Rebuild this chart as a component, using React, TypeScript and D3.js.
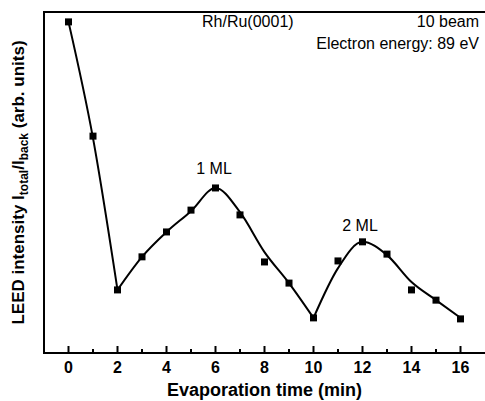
import React from 'react';
import * as d3 from 'd3';

// measured points (min, arb. units)
const times = [0, 1, 2, 3, 4, 5, 6, 7, 8, 9, 10, 11, 12, 13, 14, 15, 16];
const intensity = [0.971, 0.636, 0.185, 0.282, 0.355, 0.419, 0.484, 0.405, 0.267, 0.205, 0.103, 0.27, 0.326, 0.29, 0.185, 0.155, 0.1];

// guide-to-the-eye curve, drawn in three pieces (kinks at 2 and 10 min)
const fitTimes = [[0, 1, 2], [2, 3, 4, 5, 6, 7, 8, 9, 10], [10, 11, 12, 13, 14, 15, 16]];
const fitValues = [
  [0.971, 0.63, 0.185],
  [0.185, 0.282, 0.355, 0.416, 0.484, 0.413, 0.296, 0.205, 0.103],
  [0.103, 0.249, 0.326, 0.287, 0.208, 0.155, 0.103],
];

const xTicks = [0, 2, 4, 6, 8, 10, 12, 14, 16];
const xMinor = [1, 3, 5, 7, 9, 11, 13, 15];

const W = 485;
const H = 401;
const margin = { left: 44, top: 12, right: 0, bottom: 48 };
const font = 'Liberation Sans, Arial, Helvetica, sans-serif';

export default function App() {
  const x = d3.scaleLinear().domain([-1, 17]).range([margin.left, W - margin.right]);
  const y = d3.scaleLinear().domain([0, 1]).range([H - margin.bottom, margin.top]);
  const x0 = x.range()[0];
  const y0 = y.range()[0];

  return (
    <svg width={W} height={H} style={{ position: 'absolute', left: 0, top: 0, background: '#fff' }} fontFamily={font}>
      {/* frame: left, top, bottom */}
      <path d={`M${W},${margin.top}H${x0}V${y0}H${W}`} fill="none" stroke="#000" strokeWidth={2} />

      {xTicks.map(t => (
        <g key={t}>
          <line x1={x(t)} x2={x(t)} y1={y0} y2={y0 - 7} stroke="#000" strokeWidth={2} />
          <text x={x(t)} y={y0 + 20} textAnchor="middle" fontSize={16} fontWeight="bold">{t}</text>
        </g>
      ))}
      {xMinor.map(t => (
        <line key={t} x1={x(t)} x2={x(t)} y1={y0} y2={y0 - 4} stroke="#000" strokeWidth={2} />
      ))}

      {fitTimes.map((ts, i) => (
        <path key={i}
          d={d3.line<number>().x(d => x(d)).y((_, j) => y(fitValues[i][j])).curve(d3.curveMonotoneX)(ts) || ''}
          fill="none" stroke="#000" strokeWidth={2} />
      ))}

      {times.map((t, i) => (
        <rect key={t} x={x(t) - 3.5} y={y(intensity[i]) - 3.5} width={7} height={7} fill="#000" />
      ))}

      <text x={202} y={27} fontSize={16}>Rh/Ru(0001)</text>
      <text x={479} y={27} fontSize={16} textAnchor="end">10 beam</text>
      <text x={479} y={49} fontSize={16} textAnchor="end">Electron energy: 89 eV</text>
      <text x={214} y={174} fontSize={16} textAnchor="middle">1 ML</text>
      <text x={360} y={231} fontSize={16} textAnchor="middle">2 ML</text>

      <text x={(x0 + W) / 2} y={396} textAnchor="middle" fontSize={18} fontWeight="bold">Evaporation time (min)</text>

      <text transform={`translate(24,${(margin.top + y0) / 2}) rotate(-90)`} textAnchor="middle" fontSize={17} fontWeight="bold">
        LEED intensity I<tspan fontSize={12} dy={4}>total</tspan><tspan dy={-4}>/I</tspan><tspan fontSize={12} dy={4}>back</tspan><tspan dy={-4}> (arb. units)</tspan>
      </text>
    </svg>
  );
}
